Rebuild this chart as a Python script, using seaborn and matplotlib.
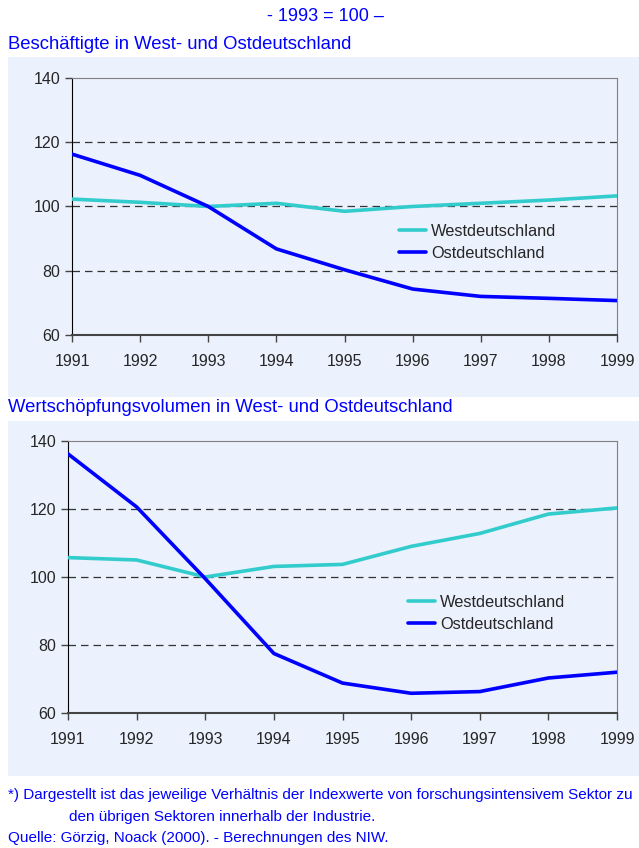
import seaborn as sns
import pandas as pd
import matplotlib.pyplot as plt
from matplotlib.patches import Rectangle

# Data (index, 1993 = 100)
years = [1991, 1992, 1993, 1994, 1995, 1996, 1997, 1998, 1999]
besch_west = [102.3, 101.3, 100.0, 101.0, 98.5, 100.0, 101.0, 102.0, 103.3]
besch_ost = [116.3, 109.7, 100.0, 86.8, 80.3, 74.3, 72.0, 71.4, 70.7]
wert_west = [105.7, 105.0, 100.0, 103.1, 103.7, 109.0, 112.8, 118.5, 120.3]
wert_ost = [136.2, 120.6, 99.5, 77.5, 68.8, 65.8, 66.3, 70.3, 72.0]
series_names = ["Westdeutschland", "Ostdeutschland"]
y_ticks = [60, 80, 100, 120, 140]

sns.set_style("white")
plt.rcParams['font.family'] = ['Liberation Sans', 'DejaVu Sans']

blue = "#0000FF"
turq = "#33CCCC"
bg = "#EBF1FD"

fig = plt.figure(figsize=(6.39, 8.48), dpi=100)

# panel backgrounds (behind the axes)
fig.patches.append(Rectangle((0.0125, 0.5318), 0.9875, 0.401, transform=fig.transFigure,
                             facecolor=bg, edgecolor="none", zorder=-10))
fig.patches.append(Rectangle((0.0125, 0.0849), 0.9875, 0.4186, transform=fig.transFigure,
                             facecolor=bg, edgecolor="none", zorder=-10))

fig.text(0.509, 0.981, "- 1993 = 100 \u2013", color=blue, fontsize=13, ha="center", va="center")
fig.text(0.0125, 0.947, "Beschäftigte in West- und Ostdeutschland", color=blue, fontsize=13.3,
         ha="left", va="center")
fig.text(0.0125, 0.519, "Wertschöpfungsvolumen in West- und Ostdeutschland", color=blue, fontsize=13.3,
         ha="left", va="center")
fig.text(0.0125, 0.0625, "*) Dargestellt ist das jeweilige Verhältnis der Indexwerte von forschungsintensivem Sektor zu",
         color=blue, fontsize=11, ha="left", va="center")
fig.text(0.108, 0.0367, "den übrigen Sektoren innerhalb der Industrie.",
         color=blue, fontsize=11, ha="left", va="center")
fig.text(0.0125, 0.0118, "Quelle: Görzig, Noack (2000). - Berechnungen des NIW.",
         color=blue, fontsize=11, ha="left", va="center")


def draw_panel(rect, west, ost, legend_pos):
    ax = fig.add_axes(rect)
    ax.set_facecolor(bg)
    df = pd.DataFrame({"Jahr": years * 2,
                       "Index": west + ost,
                       "Region": [series_names[0]] * len(years) + [series_names[1]] * len(years)})
    sns.lineplot(data=df, x="Jahr", y="Index", hue="Region", palette=[turq, blue],
                 linewidth=2.6, ax=ax, zorder=3)
    for v in [80, 100, 120]:
        ax.axhline(v, color="#333333", linestyle=(0, (6, 4)), linewidth=0.9, zorder=1)
    ax.set_xlim(years[0], years[-1])
    ax.set_ylim(60, 140)
    ax.set_xticks(years)
    ax.set_yticks(y_ticks)
    ax.set_xlabel("")
    ax.set_ylabel("")
    ax.tick_params(axis="both", direction="out", length=5, width=1, labelsize=11.5, color="#444444",
                   left=True, bottom=True)
    ax.tick_params(axis="x", pad=9)
    ax.spines["left"].set_color("black")
    ax.spines["bottom"].set_color("#444444")
    ax.spines["bottom"].set_linewidth(1.5)
    ax.spines["top"].set_color("#808080")
    ax.spines["right"].set_color("#808080")
    for s in ax.spines.values():
        s.set_visible(True)
    ax.legend(title=None, frameon=False, loc="upper left", bbox_to_anchor=legend_pos,
              fontsize=11.8, handlelength=1.65, handletextpad=0.3, labelspacing=0.4,
              borderaxespad=0)
    return ax


draw_panel([0.1127, 0.605, 0.8529, 0.303], besch_west, besch_ost, (0.588, 0.457))
draw_panel([0.1064, 0.1592, 0.8592, 0.3208], wert_west, wert_ost, (0.607, 0.458))

fig.savefig("out.png", dpi=100)
